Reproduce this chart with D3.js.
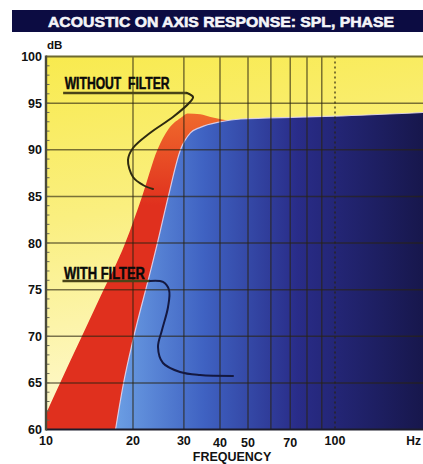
<!DOCTYPE html>
<html>
<head>
<meta charset="utf-8">
<script src="https://cdn.jsdelivr.net/npm/d3@7"></script>
<style>
  html, body { margin: 0; padding: 0; background: #ffffff; }
  svg { display: block; }
</style>
</head>
<body>
<svg id="chart" width="423" height="464"></svg>
<script>
// ---- data ----
const titleText = "ACOUSTIC ON AXIS RESPONSE: SPL, PHASE";
const yTicks = [60, 65, 70, 75, 80, 85, 90, 95, 100];
const xTickLabels = [10, 20, 30, 40, 50, 70, 100];
const xGridFreqs = [20, 30, 40, 50, 60, 70, 80, 90];
const xDottedFreq = [100];

const withoutFreq = [10, 11.27, 15.4, 18.8, 21.5, 24.3, 26.5, 29.2, 30.9, 34.2, 37.1, 44.6, 55.3, 100, 204];
const withoutDb   = [61.7, 65.2, 74.2, 80, 85, 90, 92.2, 93.4, 93.9, 93.8, 93.5, 93.1, 93.2, 93.4, 93.8];

const withFreq = [17.4, 18.5, 20.0, 23.0, 24.3, 26.5, 29.2, 31.6, 34.2, 40.2, 47.2, 76, 100, 204];
const withDb   = [60, 64.8, 69.6, 77, 80, 85, 90, 91.8, 92.4, 93.0, 93.3, 93.5, 93.6, 94.0];

// annotation leader lines, in data units (Hz, dB)
const withoutLeaderFreq = [30.75, 32.27, 31.5, 27.5, 22.9, 20.0, 19.22, 20.0, 21.65, 23.46];
const withoutLeaderDb   = [96.09, 95.66, 95.12, 93.51, 91.8, 90.19, 88.9, 87.08, 86.22, 85.79];
const withLeaderFreq = [22.9, 25.4, 26.65, 26.44, 25.2, 24.41, 25.4, 29.09, 34.12, 44.37];
const withLeaderDb   = [75.93, 75.82, 74.96, 73.14, 70.67, 68.85, 67.13, 66.17, 65.84, 65.74];

const labelWithout = "WITHOUT  FILTER";
const labelWith = "WITH FILTER";

// ---- layout ----
const svg = d3.select("#chart");
const pLeft = 46, pRight = 423, pTop = 56.5, pBottom = 429.5;

const x = d3.scaleLog().domain([10, 100]).range([pLeft, 335]);
const y = d3.scaleLinear().domain([60, 100]).range([pBottom, pTop]);

const defs = svg.append("defs");
const bg = defs.append("linearGradient").attr("id", "bgGrad")
  .attr("gradientUnits", "userSpaceOnUse").attr("x1", 0).attr("y1", pTop).attr("x2", 60).attr("y2", pBottom);
bg.append("stop").attr("offset", 0).attr("stop-color", "#f8ea4c");
bg.append("stop").attr("offset", 0.45).attr("stop-color", "#faef80");
bg.append("stop").attr("offset", 1).attr("stop-color", "#fef9d2");

const redG = defs.append("linearGradient").attr("id", "redGrad")
  .attr("gradientUnits", "userSpaceOnUse").attr("x1", 0).attr("y1", y(94)).attr("x2", 0).attr("y2", y(84));
redG.append("stop").attr("offset", 0).attr("stop-color", "#f06a2c");
redG.append("stop").attr("offset", 1).attr("stop-color", "#e0301e");

const blueG = defs.append("linearGradient").attr("id", "blueGrad")
  .attr("gradientUnits", "userSpaceOnUse").attr("x1", 110).attr("y1", 0).attr("x2", pRight).attr("y2", 0);
blueG.append("stop").attr("offset", 0).attr("stop-color", "#6ea2e6");
blueG.append("stop").attr("offset", 0.3).attr("stop-color", "#3f62c2");
blueG.append("stop").attr("offset", 0.6).attr("stop-color", "#292c88");
blueG.append("stop").attr("offset", 1).attr("stop-color", "#17174c");

defs.append("clipPath").attr("id", "plotClip")
  .append("rect").attr("x", pLeft).attr("y", pTop).attr("width", pRight - pLeft).attr("height", pBottom - pTop);

// title bar
svg.append("rect").attr("x", 12).attr("y", 10).attr("width", 411).attr("height", 22).attr("fill", "#0c0c42");
svg.append("text").attr("x", 48).attr("y", 27)
  .attr("font-family", "Liberation Sans, Arial, sans-serif").attr("font-weight", "bold")
  .attr("font-size", 15.5).attr("fill", "#f4f4f8")
  .attr("stroke", "#f4f4f8").attr("stroke-width", 0.6)
  .attr("textLength", 346).attr("lengthAdjust", "spacingAndGlyphs")
  .text(titleText);

// plot background
const plot = svg.append("g").attr("clip-path", "url(#plotClip)");
plot.append("rect").attr("x", pLeft).attr("y", pTop).attr("width", pRight - pLeft).attr("height", pBottom - pTop)
  .attr("fill", "url(#bgGrad)");

const withoutData = withoutFreq.map((f, i) => [f, withoutDb[i]]);
const withData = withFreq.map((f, i) => [f, withDb[i]]);

const area = d3.area().x(d => x(d[0])).y0(y(60)).y1(d => y(d[1])).curve(d3.curveMonotoneX);
const line = d3.line().x(d => x(d[0])).y(d => y(d[1])).curve(d3.curveMonotoneX);

plot.append("path").datum(withoutData).attr("d", area).attr("fill", "url(#redGrad)");
plot.append("path").datum(withData).attr("d", area).attr("fill", "url(#blueGrad)");
plot.append("path").datum(withData).attr("d", line).attr("fill", "none")
  .attr("stroke", "#e6dcf2").attr("stroke-width", 1.2).attr("stroke-opacity", 0.85);

// grid
const gridColor = "#2a2410";
plot.selectAll(".hg").data(yTicks.filter(v => v > 60 && v < 100)).enter().append("line")
  .attr("x1", pLeft).attr("x2", pRight).attr("y1", d => y(d)).attr("y2", d => y(d))
  .attr("stroke", gridColor).attr("stroke-opacity", 0.62).attr("stroke-width", 1.5);
plot.selectAll(".vg").data(xGridFreqs).enter().append("line")
  .attr("x1", d => x(d)).attr("x2", d => x(d)).attr("y1", pTop).attr("y2", pBottom)
  .attr("stroke", gridColor).attr("stroke-opacity", 0.62).attr("stroke-width", 1.5);
plot.selectAll(".vd").data(xDottedFreq).enter().append("line")
  .attr("x1", d => x(d)).attr("x2", d => x(d)).attr("y1", pTop).attr("y2", pBottom)
  .attr("stroke", gridColor).attr("stroke-opacity", 0.75).attr("stroke-width", 1.6)
  .attr("stroke-dasharray", "2,3");

// minor ticks on left axis (every dB)
plot.selectAll(".mt").data(d3.range(61, 100)).enter().append("line")
  .attr("x1", pLeft).attr("x2", pLeft + 3.5).attr("y1", d => y(d)).attr("y2", d => y(d))
  .attr("stroke", "#6a6a5a").attr("stroke-width", 1);

// frame lines
svg.append("line").attr("x1", pLeft).attr("x2", pRight).attr("y1", pTop).attr("y2", pTop)
  .attr("stroke", "#6e6a30").attr("stroke-width", 2.2);
svg.append("line").attr("x1", pLeft).attr("x2", pRight).attr("y1", pBottom).attr("y2", pBottom)
  .attr("stroke", "#1c1c2c").attr("stroke-width", 2);
svg.append("line").attr("x1", pLeft).attr("x2", pLeft).attr("y1", pTop - 1).attr("y2", pBottom + 1)
  .attr("stroke", "#4a4a3a").attr("stroke-width", 2.4);

// annotations
const labelFont = "Liberation Sans Narrow, Arial Narrow, sans-serif";
function annotate(text, f, db, textLen, leaderF, leaderDb, lineColor) {
  const g = svg.append("g");
  const uy = y(leaderDb[0]);
  g.append("line").attr("x1", x(f) - 1.5).attr("x2", x(leaderF[0])).attr("y1", uy).attr("y2", uy)
    .attr("stroke", "#4a4418").attr("stroke-width", 2.6);
  g.append("text").attr("x", x(f)).attr("y", y(db))
    .attr("font-family", labelFont).attr("font-weight", "bold").attr("font-size", 16)
    .attr("fill", "#0a0a0a").attr("stroke", "#0a0a0a").attr("stroke-width", 0.5)
    .attr("textLength", textLen).attr("lengthAdjust", "spacingAndGlyphs")
    .style("white-space", "pre")
    .text(text);
  const pts = leaderF.map((lf, i) => [x(lf), y(leaderDb[i])]);
  g.append("path").attr("d", d3.line().curve(d3.curveCatmullRom.alpha(0.5))(pts))
    .attr("fill", "none").attr("stroke", lineColor).attr("stroke-width", 2).attr("stroke-linecap", "round");
}
annotate(labelWithout, 11.6, 96.51, 105, withoutLeaderFreq, withoutLeaderDb, "#2e2a10");
annotate(labelWith, 11.54, 76.14, 81, withLeaderFreq, withLeaderDb, "#141840");

// y axis labels
const axisFont = "Liberation Sans, Arial, sans-serif";
svg.selectAll(".yl").data(yTicks).enter().append("text")
  .attr("x", 42).attr("y", d => y(d) + 4.5).attr("text-anchor", "end")
  .attr("font-family", axisFont).attr("font-weight", "bold").attr("font-size", 12.5).attr("fill", "#111")
  .text(d => d);
svg.append("text").attr("x", 47).attr("y", 49)
  .attr("font-family", axisFont).attr("font-weight", "bold").attr("font-size", 11.5).attr("fill", "#111")
  .text("dB");

// x axis labels
svg.selectAll(".xl").data(xTickLabels).enter().append("text")
  .attr("x", d => x(d)).attr("y", d => (d >= 40 && d <= 70) ? 447 : 445).attr("text-anchor", "middle")
  .attr("font-family", axisFont).attr("font-weight", "bold").attr("font-size", 12.5).attr("fill", "#111")
  .text(d => d);
svg.append("text").attr("x", 421).attr("y", 445).attr("text-anchor", "end")
  .attr("font-family", axisFont).attr("font-weight", "bold").attr("font-size", 12).attr("fill", "#111")
  .text("Hz");
svg.append("text").attr("x", 232).attr("y", 461).attr("text-anchor", "middle")
  .attr("font-family", axisFont).attr("font-weight", "bold").attr("font-size", 12.5).attr("fill", "#111")
  .text("FREQUENCY");
</script>
</body>
</html>
